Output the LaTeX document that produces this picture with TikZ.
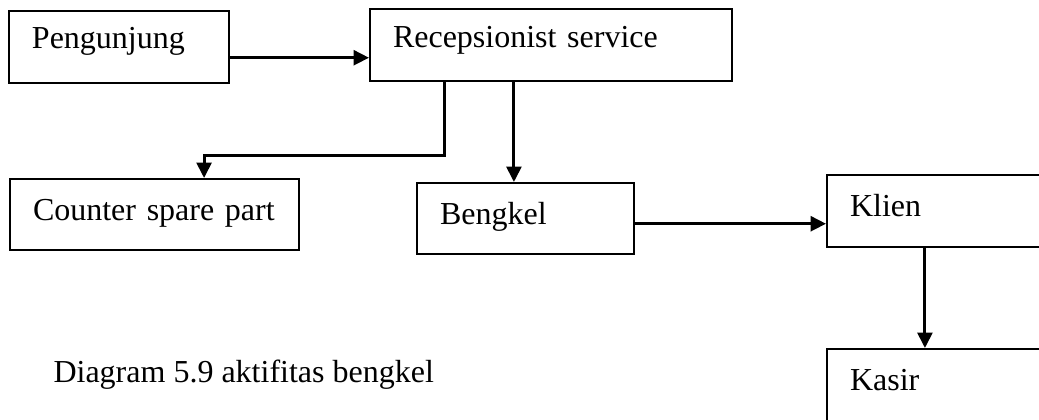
\documentclass[tikz,border=0pt]{standalone}
\usepackage{fontspec}
\setmainfont{Liberation Serif}
\usetikzlibrary{arrows.meta}

\begin{document}
\begin{tikzpicture}[x=0.375pt, y=-0.375pt, font=\fontsize{12}{14}\selectfont]
    % Define box and arrow styles
    \tikzstyle{box} = [draw, line width=0.8pt, rectangle, anchor=north west, align=left, inner ysep=0pt, inner xsep=8.6pt, text height=15pt, text depth=12pt]
    \tikzstyle{arr} = [line width=1.1pt, -{Triangle[length=5.8pt, width=5.6pt]}]

    \useasboundingbox (0,0) rectangle (1039,420);
    \clip (0,0) rectangle (1039,420);

    % Boxes
    \node[box, text width=65.2pt, text height=14pt, text depth=13pt] (peng) at (8,10) {Pengunjung};
    \node[box, text width=118.5pt, text height=14.5pt, text depth=12.5pt] (recep) at (369,8) {Recepsionist service};
    \node[box, text width=91.1pt, text height=15.5pt, text depth=11pt] (counter) at (9,178) {Counter spare part};
    \node[box, text width=64.1pt, text height=15.5pt, text depth=11pt] (bengkel) at (416,182) {Bengkel};
    \node[box, text width=72.7pt, text height=15.5pt, text depth=11.5pt] (klien) at (826,174) {Klien};
    \node[box, text width=72.7pt, text height=15.5pt, text depth=16pt] (kasir) at (826,348) {Kasir};

    % Caption
    \node[anchor=base west, inner sep=0pt] (caption) at (53,383) {Diagram 5.9 aktifitas bengkel};

    % Flow arrows
    \draw[arr] ([yshift=-4pt]peng.east) -- ([yshift=-4pt]peng.east -| recep.west);
    \draw[arr] ([xshift=-40.1pt]recep.south) -- ++(0,73) -| ([xshift=18.6pt]counter.north);
    \draw[arr] ([xshift=-13.9pt]recep.south) -- ([xshift=-13.9pt]recep.south |- bengkel.north);
    \draw[arr] ([yshift=-2pt]bengkel.east) -- ([yshift=-2pt]bengkel.east -| klien.west);
    \draw[arr] ([xshift=37.1pt]klien.south west) -- ([xshift=37.1pt]klien.south west |- kasir.north);
\end{tikzpicture}
\end{document}
